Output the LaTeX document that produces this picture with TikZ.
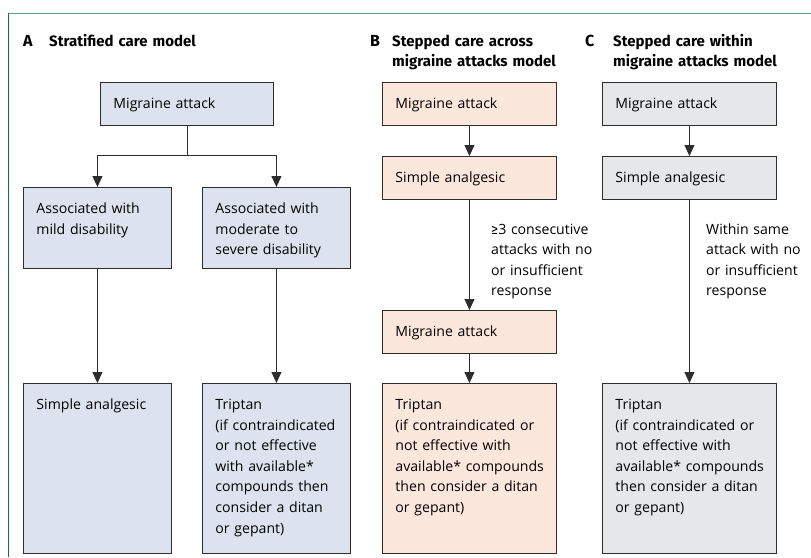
\documentclass[tikz,border=0pt]{standalone}
\usepackage{fontspec}
\setmainfont{Open Sans}
\newfontfamily\headfont{Fira Sans}
\usetikzlibrary{arrows.meta}
\hyphenpenalty=10000

\definecolor{stratblue}{RGB}{220,227,239}
\definecolor{stepcross}{RGB}{252,231,221}
\definecolor{stepwithin}{RGB}{230,231,233}
\definecolor{boxline}{RGB}{45,45,45}
\definecolor{frametop}{RGB}{95,165,130}
\definecolor{frameleft}{RGB}{10,120,60}

\begin{document}
\begin{tikzpicture}[x=1pt, y=-1pt,
    font=\fontsize{14.1}{20.6}\selectfont,
    flowbox/.style={draw=boxline, line width=0.9pt, anchor=north west, align=left,
        inner xsep=13pt, inner ysep=13pt, text height=13pt, text depth=4pt, text width=#1},
    flowbox/.default=148pt,
    flowline/.style={draw=boxline, line width=0.9pt},
    arr/.style={flowline, -{Triangle[width=10pt,length=11pt]}},
    letter/.style={anchor=base west, inner sep=0pt, font=\headfont\bfseries\fontsize{16}{20}\selectfont},
    heading/.style={anchor=base west, inner sep=0pt, align=left, text width=220pt,
        font=\headfont\bfseries\fontsize{15}{20}\selectfont},
    note/.style={anchor=base west, inner sep=0pt, align=left, text width=110pt}]
    \useasboundingbox (0,0) rectangle (811,557);
    \draw[frametop, line width=1pt] (8,13) -- (811,13);     % frame
    \draw[frameleft, line width=1pt] (8,13) -- (8,557);

    % A
    \node[letter] (aletter) at (23,46) {A};
    \node[heading] (ahead) at (49,46) {Stratified care model};
    \node[flowbox=147pt, fill=stratblue] (amig) at (100,82) {Migraine attack};
    \node[flowbox=122pt, fill=stratblue, text depth=42pt] (amild) at (23,187) {Associated with\\mild disability};
    \node[flowbox=122pt, fill=stratblue, text depth=42pt] (amod) at (202,187) {Associated with\\moderate to\\severe disability};
    \node[flowbox=122pt, fill=stratblue, text depth=131pt] (asimple) at (23,383) {Simple analgesic};
    \node[flowbox=122pt, fill=stratblue, text depth=131pt] (atrip) at (202,383) {Triptan\\\mbox{(if contraindicated}\\or not effective\\with available*\\compounds then\\consider a ditan\\or gepant)};
    \coordinate (asplit) at (amig.south |- 0,155);
    \draw[flowline] (amig) -- (asplit);
    \draw[arr] (asplit) -| (amild);
    \draw[arr] (asplit) -| (amod);
    \draw[arr] (amild) -- (asimple);
    \draw[arr] (amod) -- (atrip);

    % B
    \node[letter] (bletter) at (370,46) {B};
    \node[heading] (bhead) at (392,46) {Stepped care across\\migraine attacks model};
    \node[flowbox, fill=stepcross] (bmig) at (382,82) {Migraine attack};
    \node[flowbox, fill=stepcross] (bsimple) at (382,156) {Simple analgesic};
    \node[flowbox, fill=stepcross] (bmig2) at (382,310) {Migraine attack};
    \node[flowbox, fill=stepcross, text depth=131pt] (btrip) at (382,383) {Triptan\\\mbox{(if contraindicated or}\\not effective with\\\mbox{available* compounds}\\then consider a ditan\\or gepant)};
    \node[note] (bnote) at (491,234) {{\headfont ≥}3 consecutive\\attacks with no\\or insufficient\\response};
    \draw[arr] (bmig) -- (bsimple);
    \draw[arr] (bsimple) -- (bmig2);
    \draw[arr] (bmig2) -- (btrip);

    % C
    \node[letter] (cletter) at (585,46) {C};
    \node[heading] (chead) at (613,46) {Stepped care within\\migraine attacks model};
    \node[flowbox, fill=stepwithin] (cmig) at (602,82) {Migraine attack};
    \node[flowbox, fill=stepwithin] (csimple) at (602,156) {Simple analgesic};
    \node[flowbox, fill=stepwithin, text depth=131pt] (ctrip) at (602,383) {Triptan\\\mbox{(if contraindicated or}\\not effective with\\\mbox{available* compounds}\\then consider a ditan\\or gepant)};
    \node[note] (cnote) at (706,234) {Within same\\attack with no\\or insufficient\\response};
    \draw[arr] (cmig) -- (csimple);
    \draw[arr] (csimple) -- (ctrip);
\end{tikzpicture}
\end{document}
